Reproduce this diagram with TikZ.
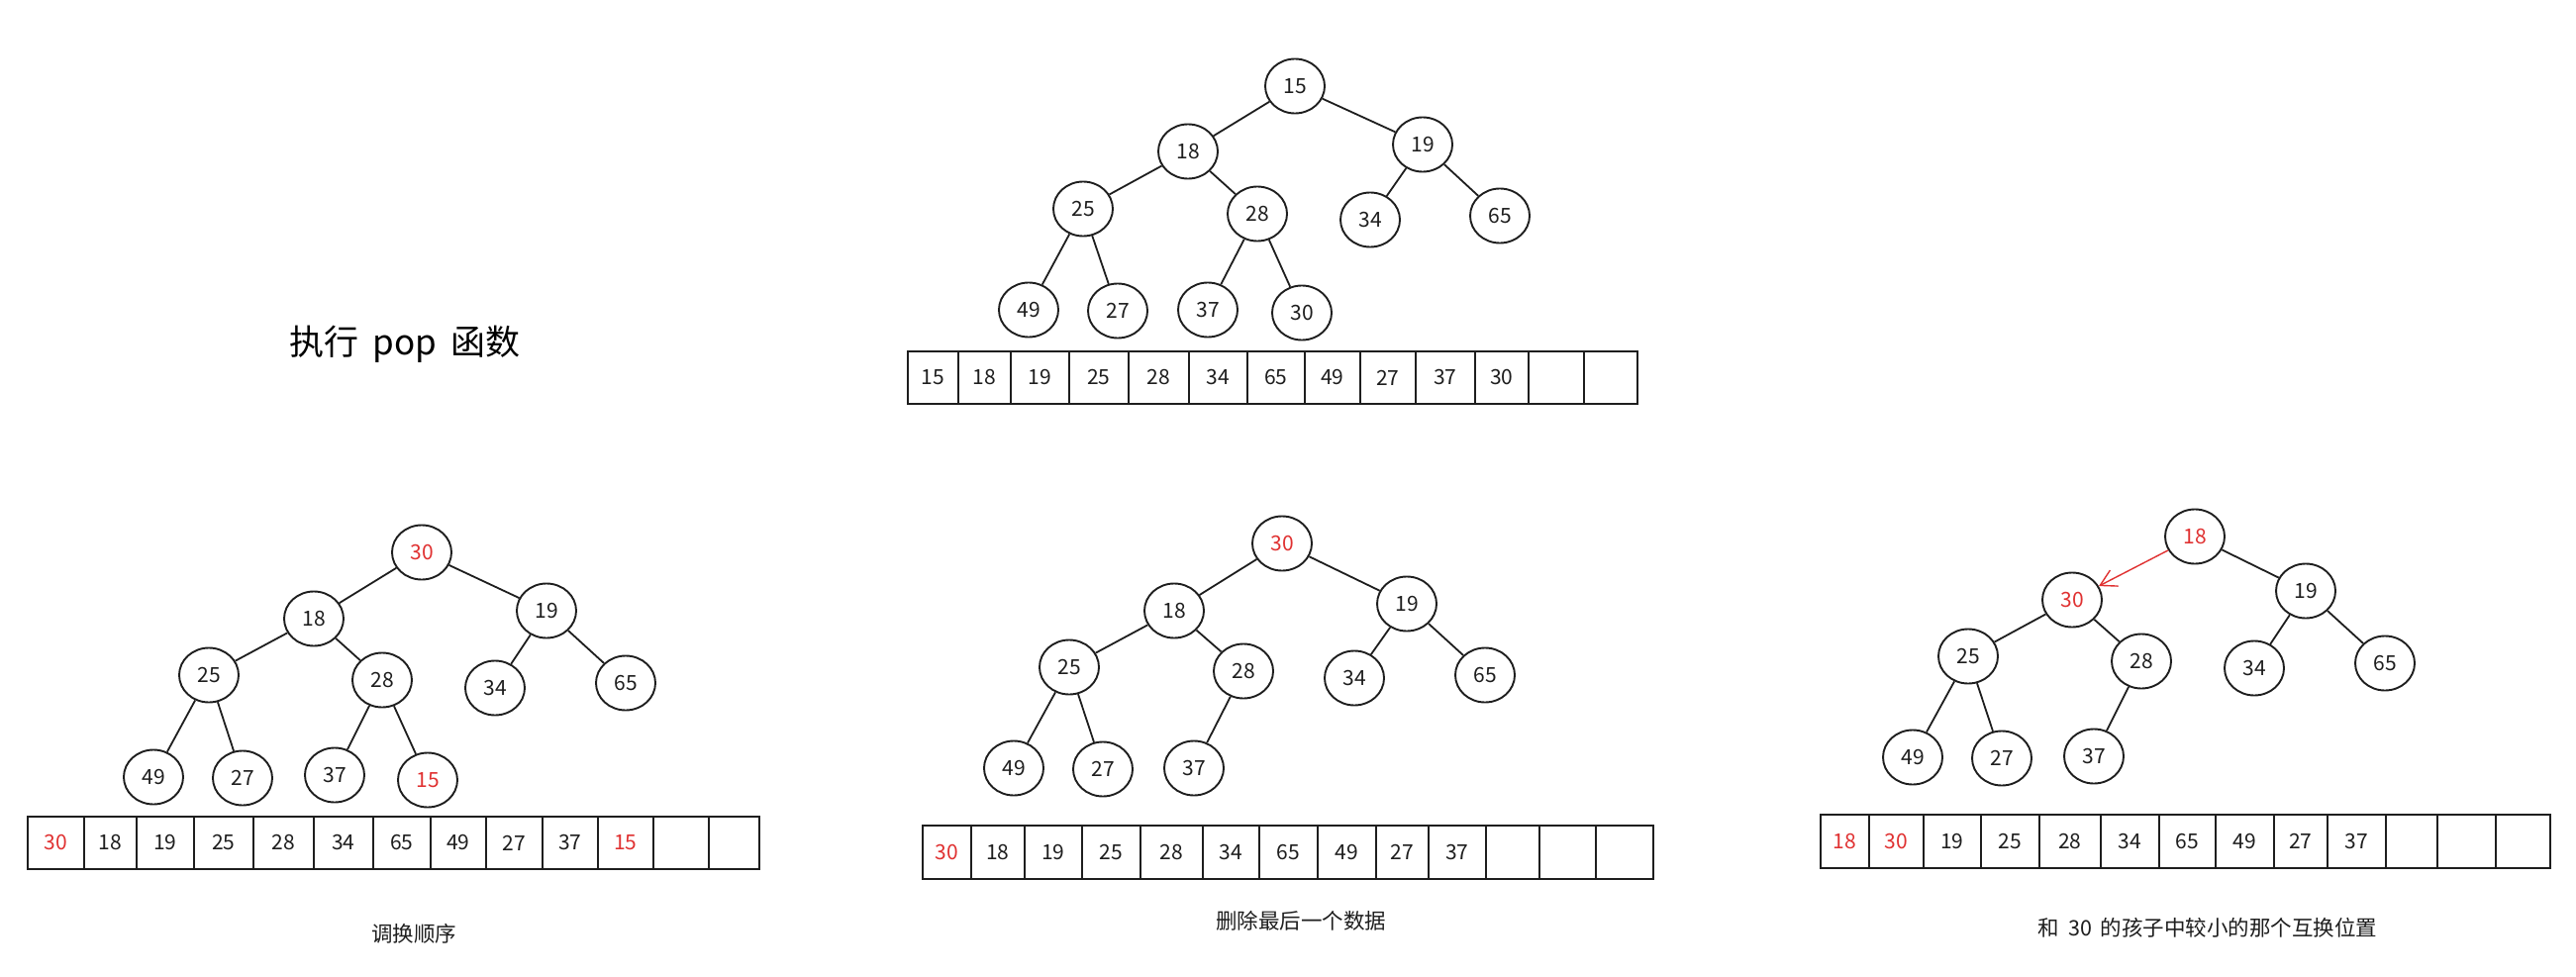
\documentclass[tikz,border=0pt]{standalone}
\usepackage{fontspec}
\setmainfont{Noto Sans CJK SC}
\usetikzlibrary{shapes.geometric,arrows.meta}
\definecolor{exRed}{HTML}{E03131}
\definecolor{inkc}{HTML}{1E1E1E}
\begin{document}
\begin{tikzpicture}[x=1pt,y=-1pt,
  nd/.style={draw=inkc, ellipse, line width=1.9pt, minimum width=60pt, minimum height=55pt, inner sep=0pt, font=\fontsize{21}{23}\selectfont, text=inkc},
  hl/.style={text=exRed},
  lnk/.style={draw=inkc, line width=1.8pt},
  cell/.style={draw=inkc, line width=1.8pt, inner sep=0pt, anchor=west, font=\fontsize{21}{23}\selectfont},
  captxt/.style={font=\fontsize{21.5}{24}\selectfont, text=inkc}]
\useasboundingbox (0,0) rectangle (2602,987);
\fill[white] (0,0) rectangle (2602,987);

\node[font=\fontsize{35}{40}\selectfont, text=black] (title) at (409,348) {执行\hspace{14pt}pop\hspace{14pt}函数};

% ---------- panel A ----------
\node[nd] (A15) at (1308,87) {15};
\node[nd] (A18) at (1200,153) {18};
\node[nd] (A19) at (1437,146) {19};
\node[nd] (A25) at (1094,211) {25};
\node[nd] (A28) at (1270,216) {28};
\node[nd] (A34) at (1384,222) {34};
\node[nd] (A65) at (1515,218) {65};
\node[nd] (A49) at (1039,313) {49};
\node[nd] (A27) at (1129,314) {27};
\node[nd] (A37) at (1220,313) {37};
\node[nd] (A30) at (1315,316) {30};
\path[lnk] (A15)--(A18) (A15)--(A19) (A18)--(A25) (A18)--(A28) (A19)--(A34) (A19)--(A65)
  (A25)--(A49) (A25)--(A27) (A28)--(A37) (A28)--(A30);
\foreach \l/\r/\t/\c [count=\i] in {916/967/15/inkc, 967/1020/18/inkc, 1020/1079/19/inkc, 1079/1139/25/inkc, 1139/1200/28/inkc, 1200/1259/34/inkc, 1259/1317/65/inkc, 1317/1373/49/inkc, 1373/1429/27/inkc, 1429/1489/37/inkc, 1489/1543/30/inkc, 1543/1599/{}/inkc, 1599/1653/{}/inkc}
  \node[cell, minimum width={\r-\l}, minimum height=53pt, text=\c] (Acell\i) at (\l,381.5) {\t};

% ---------- panel B ----------
\node[nd,hl] (B30) at (426,558) {30};
\node[nd] (B18) at (317,625) {18};
\node[nd] (B19) at (552,617) {19};
\node[nd] (B25) at (211,682) {25};
\node[nd] (B28) at (386,687) {28};
\node[nd] (B34) at (500,695) {34};
\node[nd] (B65) at (632,690) {65};
\node[nd] (B49) at (155,785) {49};
\node[nd] (B27) at (245,786) {27};
\node[nd] (B37) at (338,783) {37};
\node[nd,hl] (B15) at (432,788) {15};
\path[lnk] (B30)--(B18) (B30)--(B19) (B18)--(B25) (B18)--(B28) (B19)--(B34) (B19)--(B65)
  (B25)--(B49) (B25)--(B27) (B28)--(B37) (B28)--(B15);
\foreach \l/\r/\t/\c [count=\i] in {27/84/30/exRed, 84/137/18/inkc, 137/195/19/inkc, 195/255/25/inkc, 255/316/28/inkc, 316/376/34/inkc, 376/434/65/inkc, 434/490/49/inkc, 490/547/27/inkc, 547/603/37/inkc, 603/659/15/exRed, 659/715/{}/inkc, 715/766/{}/inkc}
  \node[cell, minimum width={\r-\l}, minimum height=53pt, text=\c] (Bcell\i) at (\l,851.5) {\t};
\node[captxt] (capB) at (418,943) {调换顺序};

% ---------- panel C ----------
\node[nd,hl] (C30) at (1295,549) {30};
\node[nd] (C18) at (1186,617) {18};
\node[nd] (C19) at (1421,610) {19};
\node[nd] (C25) at (1080,674) {25};
\node[nd] (C28) at (1256,678) {28};
\node[nd] (C34) at (1368,685) {34};
\node[nd] (C65) at (1500,682) {65};
\node[nd] (C49) at (1024,776) {49};
\node[nd] (C27) at (1114,777) {27};
\node[nd] (C37) at (1206,776) {37};
\path[lnk] (C30)--(C18) (C30)--(C19) (C18)--(C25) (C18)--(C28) (C19)--(C34) (C19)--(C65)
  (C25)--(C49) (C25)--(C27) (C28)--(C37);
\foreach \l/\r/\t/\c [count=\i] in {931/980/30/exRed, 980/1034/18/inkc, 1034/1092/19/inkc, 1092/1151/25/inkc, 1151/1214/28/inkc, 1214/1271/34/inkc, 1271/1330/65/inkc, 1330/1389/49/inkc, 1389/1442/27/inkc, 1442/1500/37/inkc, 1500/1554/{}/inkc, 1554/1611/{}/inkc, 1611/1669/{}/inkc}
  \node[cell, minimum width={\r-\l}, minimum height=54pt, text=\c] (Ccell\i) at (\l,861) {\t};
\node[captxt] (capC) at (1314,930) {删除最后一个数据};

% ---------- panel D ----------
\node[nd,hl] (D18) at (2217,542) {18};
\node[nd,hl] (D30) at (2093,606) {30};
\node[nd] (D19) at (2329,597) {19};
\node[nd] (D25) at (1988,663) {25};
\node[nd] (D28) at (2163,668) {28};
\node[nd] (D34) at (2277,675) {34};
\node[nd] (D65) at (2409,670) {65};
\node[nd] (D49) at (1932,765) {49};
\node[nd] (D27) at (2022,766) {27};
\node[nd] (D37) at (2115,764) {37};
\draw[exRed, line width=1.4pt, -{Straight Barb[length=16pt,width=18pt]}] (D18) -- (D30);
\path[lnk] (D18)--(D19) (D30)--(D25) (D30)--(D28) (D19)--(D34) (D19)--(D65)
  (D25)--(D49) (D25)--(D27) (D28)--(D37);
\foreach \l/\r/\t/\c [count=\i] in {1838/1887/18/exRed, 1887/1942/30/exRed, 1942/2000/19/inkc, 2000/2059/25/inkc, 2059/2121/28/inkc, 2121/2180/34/inkc, 2180/2237/65/inkc, 2237/2296/49/inkc, 2296/2350/27/inkc, 2350/2409/37/inkc, 2409/2461/{}/inkc, 2461/2520/{}/inkc, 2520/2575/{}/inkc}
  \node[cell, minimum width={\r-\l}, minimum height=54pt, text=\c] (Dcell\i) at (\l,850) {\t};
\node[captxt] (capD) at (2230,937) {和\hspace{9pt}30\hspace{9pt}的孩子中较小的那个互换位置};
\end{tikzpicture}
\end{document}
